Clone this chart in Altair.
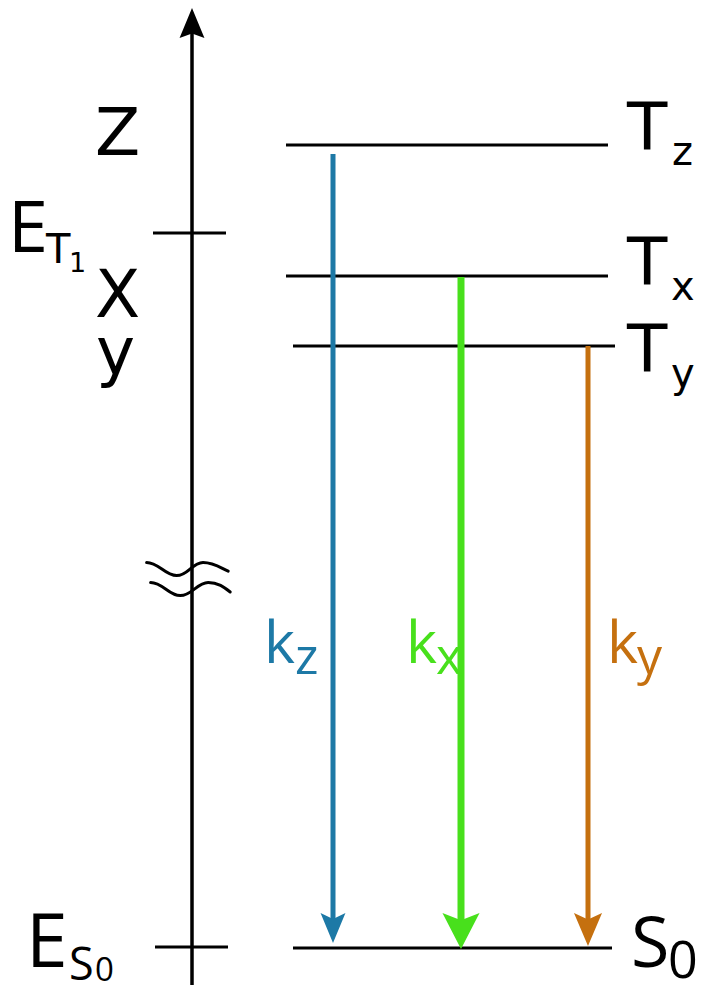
import altair as alt
import pandas as pd

# ---------------- data (horizontal position u, energy e; arbitrary diagram units) ----------------
level_names = ["Tz", "Tx", "Ty", "S0"]
level_energy = [849, 718, 648, 46]
level_x0 = [286, 286, 293, 293]
level_x1 = [608, 608, 615, 612]

axis_x = [192]
axis_bottom = [9]
axis_top = [986]

tick_names = ["E_T1", "E_S0"]
tick_energy = [761, 47]
tick_x0 = [153, 155]
tick_x1 = [226, 228]

arrow_names = ["k_z", "k_x", "k_y"]
arrow_x = [333, 461, 588]
arrow_from = [840, 717, 648]
arrow_tip = [51, 45, 48]
arrow_colors = ["#1d79a6", "#48e01c", "#c5700f"]

break_x = [189]
break_energy = [414]

# text labels: (text, left u, baseline e)
big_text = ["Z", "X", "y", "T", "T", "T"]
big_u = [95, 95, 96, 627, 627, 627]
big_e = [839, 677, 620, 844, 709, 622]

sub_text = ["z", "x", "y", "T"]
sub_u = [672, 671, 671, 46]
sub_e = [829, 694, 607, 731]

one_text = ["1"]
one_u = [69]
one_e = [722]

e_text = ["E", "E"]
e_u = [8, 26]
e_e = [742, 27]
e_size = [72, 75]

s_big_text = ["S"]
s_big_u = [631]
s_big_e = [27]
zero_big_text = ["0"]
zero_big_u = [668]
zero_big_e = [16]

s_sub_text = ["S"]
s_sub_u = [69]
s_sub_e = [14]
zero_sub_text = ["0"]
zero_sub_u = [95]
zero_sub_e = [13]

k_text = ["k", "k", "k"]
k_u = [264, 406, 607]
k_e = [331, 331, 331]
ksub_text = ["z", "x", "y"]
ksub_u = [295, 436, 637]
ksub_e = [320, 320, 320]

# ---------------- chart ----------------
W, H = 692, 986
XS = alt.Scale(domain=[8, 700], nice=False, zero=False)
YS = alt.Scale(domain=[0, 986], nice=False, zero=False)


def X(f):
    return alt.X(f, type="quantitative", scale=XS, axis=None)


def Y(f):
    return alt.Y(f, type="quantitative", scale=YS, axis=None)


layers = []

levels = pd.DataFrame({"name": level_names, "e": level_energy, "x0": level_x0, "x1": level_x1})
layers.append(
    alt.Chart(levels).mark_rule(color="black", strokeWidth=3).encode(
        x=X("x0"), x2="x1", y=Y("e")
    )
)

ticks = pd.DataFrame({"name": tick_names, "e": tick_energy, "x0": tick_x0, "x1": tick_x1})
layers.append(
    alt.Chart(ticks).mark_rule(color="black", strokeWidth=3).encode(
        x=X("x0"), x2="x1", y=Y("e")
    )
)

# energy axis with arrow head
AX_HEAD_R = 15
axis_df = pd.DataFrame({"x": axis_x, "e0": axis_bottom, "top": axis_top})
axis_df["e1"] = axis_df["top"] - AX_HEAD_R
axis_df["ec"] = axis_df["top"] - AX_HEAD_R
layers.append(
    alt.Chart(axis_df).mark_rule(color="black", strokeWidth=3.5).encode(
        x=X("x"), y=Y("e0"), y2="e1"
    )
)
layers.append(
    alt.Chart(axis_df).mark_point(
        shape="M0,-1L0.83,1L0,0.7L-0.83,1Z", filled=True, opacity=1,
        size=(2 * AX_HEAD_R) ** 2, color="black",
    ).encode(x=X("x"), y=Y("ec"))
)

# axis break
brk = pd.DataFrame({"x": break_x, "e": break_energy})
wave_path = (
    "M-1.06,-0.44C-0.76,-0.44,-0.6,-0.11,-0.31,-0.11"
    "C-0.02,-0.11,0.08,-0.44,0.35,-0.44C0.62,-0.44,0.8,-0.3,0.98,-0.22"
    "M-0.96,0.06C-0.66,0.06,-0.5,0.39,-0.22,0.39"
    "C0.08,0.39,0.2,0.06,0.48,0.06C0.72,0.06,0.88,0.18,1.03,0.3"
)
layers.append(
    alt.Chart(brk).mark_point(
        shape=wave_path, filled=False, opacity=1, size=6400, color="black",
        strokeWidth=3, strokeCap="round",
    ).encode(x=X("x"), y=Y("e"))
)

# decay arrows
head_r = [15, 18, 16.5]
head_w = [0.83, 1.03, 0.85]
shaft_w = [5, 7, 5]
for i in range(len(arrow_names)):
    r = head_r[i]
    df = pd.DataFrame({"name": [arrow_names[i]], "x": [arrow_x[i]],
                       "from": [arrow_from[i]], "tip": [arrow_tip[i]]})
    df["end"] = df["tip"] + 1.5 * r
    df["ec"] = df["tip"] + r
    w = head_w[i]
    path = f"M0,1L{w},-1L0,-0.6L-{w},-1Z"
    layers.append(
        alt.Chart(df).mark_rule(color=arrow_colors[i], strokeWidth=shaft_w[i], strokeCap="butt").encode(
            x=X("x"), y=Y("from"), y2="end"
        )
    )
    layers.append(
        alt.Chart(df).mark_point(shape=path, filled=True, opacity=1, size=(2 * r) ** 2,
                                 color=arrow_colors[i]).encode(x=X("x"), y=Y("ec"))
    )


def text_layer(texts, us, es, size, font, color="black"):
    df = pd.DataFrame({"t": texts, "u": us, "e": es})
    return alt.Chart(df).mark_text(
        align="left", baseline="alphabetic", font=font, fontSize=size, color=color
    ).encode(x=X("u"), y=Y("e"), text="t:N")


DJ = "DejaVu Sans"
OS = "Open Sans"
layers.append(text_layer(big_text, big_u, big_e, 66, DJ))
layers.append(text_layer(sub_text, sub_u, sub_e, 40, DJ))
layers.append(text_layer(one_text, one_u, one_e, 27, DJ))
for i in range(len(e_text)):
    layers.append(text_layer([e_text[i]], [e_u[i]], [e_e[i]], e_size[i], OS))
layers.append(text_layer(s_big_text, s_big_u, s_big_e, 70, OS))
layers.append(text_layer(zero_big_text, zero_big_u, zero_big_e, 52, OS))
layers.append(text_layer(s_sub_text, s_sub_u, s_sub_e, 45, OS))
layers.append(text_layer(zero_sub_text, zero_sub_u, zero_sub_e, 33, OS))

for i in range(3):
    layers.append(text_layer([k_text[i]], [k_u[i]], [k_e[i]], 59, OS, arrow_colors[i]))
    layers.append(text_layer([ksub_text[i]], [ksub_u[i]], [ksub_e[i]], 50, OS, arrow_colors[i]))

chart = alt.layer(*layers).properties(
    width=W, height=H, padding=0, autosize=alt.AutoSizeParams(type="none"),
    background="white",
).configure_view(stroke=None)

chart.save("out.html", embed_options={"renderer": "svg", "actions": False})
